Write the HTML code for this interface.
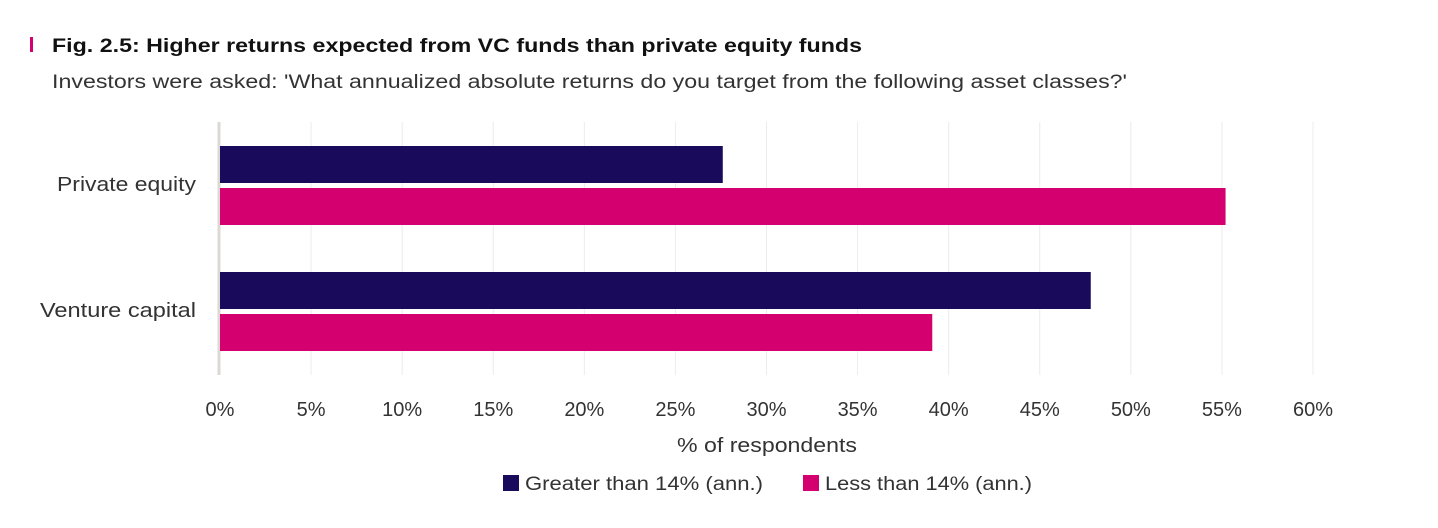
<!DOCTYPE html>
<html><head><meta charset="utf-8"><style>
body{margin:0;background:#fff;width:1438px;height:523px;overflow:hidden;font-family:"Liberation Sans",sans-serif}
</style></head><body>
<svg id="chart" width="1438" height="523" xmlns="http://www.w3.org/2000/svg" font-family="Liberation Sans, sans-serif">
<rect x="30" y="37" width="3" height="15" fill="#d4006f"/>
<text x="52" y="52" font-size="19" font-weight="bold" fill="#111" textLength="810" lengthAdjust="spacingAndGlyphs">Fig. 2.5: Higher returns expected from VC funds than private equity funds</text>
<text x="52" y="88" font-size="19" fill="#333" textLength="1075" lengthAdjust="spacingAndGlyphs">Investors were asked: 'What annualized absolute returns do you target from the following asset classes?'</text>
<g id="grid"></g>
<g id="bars"></g>
<g id="labels"></g>
<text x="767" y="452" font-size="20" fill="#333" text-anchor="middle" textLength="180" lengthAdjust="spacingAndGlyphs">% of respondents</text>
<g>
<rect x="503" y="475" width="16" height="16" fill="#1a0a5c"/>
<text x="525" y="490" font-size="19" fill="#333" textLength="238" lengthAdjust="spacingAndGlyphs">Greater than 14% (ann.)</text>
<rect x="803" y="475" width="16" height="16" fill="#d4006f"/>
<text x="825" y="490" font-size="19" fill="#333" textLength="207" lengthAdjust="spacingAndGlyphs">Less than 14% (ann.)</text>
</g>
</svg>
<script>
const categories = ["Private equity", "Venture capital"];
const greaterValues = [27.6, 47.8];
const lessValues = [55.2, 39.1];
const tickValues = [0,5,10,15,20,25,30,35,40,45,50,55,60];
const tickLabels = ["0%","5%","10%","15%","20%","25%","30%","35%","40%","45%","50%","55%","60%"];
const NS="http://www.w3.org/2000/svg";
const X0=220, X1=1313, TOPY=122, BOTY=375;
const labelWidths=[139,156];
const xs=v=>X0+(X1-X0)*v/60;
const bandY=i=>146+i*126;
function mk(tag,attrs,parent,txt){const e=document.createElementNS(NS,tag);for(const k in attrs)e.setAttribute(k,attrs[k]);if(txt!==undefined)e.textContent=txt;parent.appendChild(e);return e;}
const grid=document.getElementById('grid'),bars=document.getElementById('bars'),labels=document.getElementById('labels');
tickValues.forEach((v,i)=>{
  if(v>0){const g=mk('line',{x1:xs(v),x2:xs(v),y1:TOPY,y2:BOTY,stroke:'#ececec','stroke-width':1},grid);
  
  }
  const t=mk('text',{x:xs(v),y:416,'font-size':20,fill:'#333','text-anchor':'middle'},labels,tickLabels[i]);
  
  
});
const ax=mk('line',{x1:219,x2:219,y1:TOPY,y2:BOTY,stroke:'#ddd8d4','stroke-width':3},grid);


categories.forEach((c,i)=>{
  const y=bandY(i);
  const b1=mk('rect',{x:X0,y:y,width:xs(greaterValues[i])-X0,height:37,fill:'#1a0a5c'},bars);
  
  
  const b2=mk('rect',{x:X0,y:y+42,width:xs(lessValues[i])-X0,height:37,fill:'#d4006f'},bars);
  
  
  const l=mk('text',{x:196,y:y+45,'font-size':20,fill:'#333','text-anchor':'end',textLength:labelWidths[i],lengthAdjust:'spacingAndGlyphs'},labels,c);
  
  
});
</script>
</body></html>
